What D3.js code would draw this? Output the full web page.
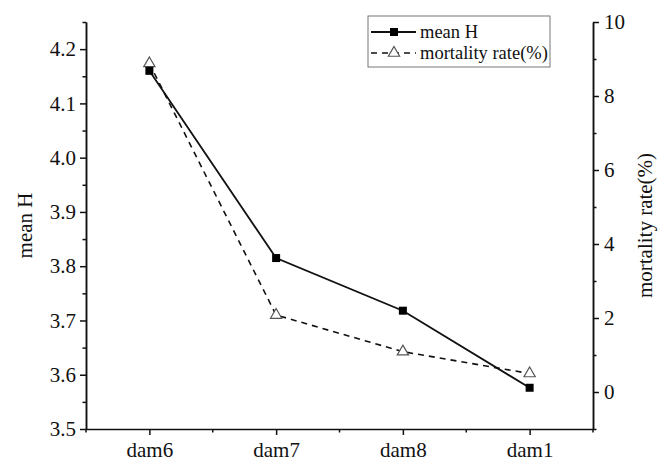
<!DOCTYPE html>
<html>
<head>
<meta charset="utf-8">
<script src="https://cdn.jsdelivr.net/npm/d3@7"></script>
<style>
  body { margin: 0; background: #fff; }
  svg text { font-family: "Liberation Serif", "Times New Roman", serif; fill: #111; }
  .axis path, .axis line { stroke: #111; stroke-width: 1.5; }
</style>
</head>
<body>
<div class="chart"></div>
<script>
// data
var categories = ["dam6", "dam7", "dam8", "dam1"];
var meanH = [4.16, 3.815, 3.718, 3.576];
var mortality = [8.88, 2.08, 1.09, 0.50];
var leftTicks = [3.5, 3.6, 3.7, 3.8, 3.9, 4.0, 4.1, 4.2];
var leftMinor = [3.55, 3.65, 3.75, 3.85, 3.95, 4.05, 4.15, 4.25];
var rightTicks = [0, 2, 4, 6, 8, 10];
var rightMinor = [-1, 1, 3, 5, 7, 9];
var seriesNames = ["mean H", "mortality rate(%)"];

var serif = "'Liberation Serif', 'Times New Roman', serif";

var svgWidth = 660;
var svgHeight = 461;

var margin = {
    top: 22,
    right: 67,
    bottom: 32,
    left: 86
};

var chartWidth = svgWidth - margin.left - margin.right;
var chartHeight = svgHeight - margin.top - margin.bottom;

var svg = d3.select(".chart")
    .append("svg")
    .attr("width", svgWidth)
    .attr("height", svgHeight);

var chartGroup = svg.append("g")
    .attr("transform", `translate(${margin.left}, ${margin.top})`);

var xScale = d3.scalePoint()
    .domain(categories)
    .range([0, chartWidth])
    .padding(0.5);

var yLeft = d3.scaleLinear()
    .domain([3.5, 4.25])
    .range([chartHeight, 0]);

var yRight = d3.scaleLinear()
    .domain([-1, 10])
    .range([chartHeight, 0]);

function styleAxis(g) {
    g.attr("font-family", serif).attr("font-size", 21);
    g.selectAll("text").attr("fill", "#111");
}

// minor ticks first, majors on top
chartGroup.append("g")
    .attr("class", "axis")
    .call(d3.axisLeft(yLeft).tickValues(leftMinor).tickSize(3.5).tickSizeOuter(0).tickFormat(""));

chartGroup.append("g")
    .attr("class", "axis")
    .call(d3.axisLeft(yLeft).tickValues(leftTicks).tickSize(6).tickSizeOuter(0).tickPadding(4)
        .tickFormat(d3.format(".1f")))
    .call(styleAxis);

chartGroup.append("g")
    .attr("class", "axis")
    .attr("transform", `translate(${chartWidth}, 0)`)
    .call(d3.axisRight(yRight).tickValues(rightMinor).tickSize(3.5).tickSizeOuter(0).tickFormat(""));

chartGroup.append("g")
    .attr("class", "axis")
    .attr("transform", `translate(${chartWidth}, 0)`)
    .call(d3.axisRight(yRight).tickValues(rightTicks).tickSize(6).tickSizeOuter(0).tickPadding(5))
    .call(styleAxis);

// x minor ticks sit halfway between categories and at both ends
var step = xScale.step();
var xMinor = [xScale(categories[0]) - step / 2].concat(categories.map(c => xScale(c) + step / 2));

var xMinorAxis = chartGroup.append("g")
    .attr("class", "axis")
    .attr("transform", `translate(0, ${chartHeight})`);
xMinorAxis.selectAll("line")
    .data(xMinor)
    .enter()
    .append("line")
    .attr("x1", d => d)
    .attr("x2", d => d)
    .attr("y1", 0)
    .attr("y2", 3.5);

chartGroup.append("g")
    .attr("class", "axis")
    .attr("transform", `translate(0, ${chartHeight})`)
    .call(d3.axisBottom(xScale).tickSize(6).tickSizeOuter(0).tickPadding(7))
    .call(styleAxis);

// mortality (dashed, open triangles)
var mortLine = d3.line()
    .x((d, i) => xScale(categories[i]))
    .y(d => yRight(d));

chartGroup.append("path")
    .datum(mortality)
    .attr("d", mortLine)
    .attr("fill", "none")
    .attr("stroke", "#111")
    .attr("stroke-width", 1.6)
    .attr("stroke-dasharray", "6,5");

// mean H (solid, filled squares)
var hLine = d3.line()
    .x((d, i) => xScale(categories[i]))
    .y(d => yLeft(d));

chartGroup.append("path")
    .datum(meanH)
    .attr("d", hLine)
    .attr("fill", "none")
    .attr("stroke", "#111")
    .attr("stroke-width", 1.8);

var triangle = d3.symbol().type(d3.symbolTriangle).size(55);
var square = d3.symbol().type(d3.symbolSquare).size(64);

chartGroup.selectAll(".tri")
    .data(mortality)
    .enter()
    .append("path")
    .attr("class", "tri")
    .attr("d", triangle)
    .attr("transform", (d, i) => `translate(${xScale(categories[i])}, ${yRight(d)})`)
    .attr("fill", "#fff")
    .attr("stroke", "#555")
    .attr("stroke-width", 1.2);

chartGroup.selectAll(".sq")
    .data(meanH)
    .enter()
    .append("path")
    .attr("class", "sq")
    .attr("d", square)
    .attr("transform", (d, i) => `translate(${xScale(categories[i])}, ${yLeft(d)})`)
    .attr("fill", "#000");

// axis titles
chartGroup.append("text")
    .attr("transform", `translate(${25 - margin.left}, ${chartHeight / 2}) rotate(-90)`)
    .attr("text-anchor", "middle")
    .attr("dy", "0.35em")
    .attr("font-size", 21)
    .text(seriesNames[0]);

chartGroup.append("text")
    .attr("transform", `translate(${chartWidth + 52}, ${chartHeight / 2}) rotate(-90)`)
    .attr("text-anchor", "middle")
    .attr("dy", "0.35em")
    .attr("font-size", 21)
    .text(seriesNames[1]);

// legend
var legend = svg.append("g")
    .attr("transform", "translate(368, 16)");

legend.append("rect")
    .attr("width", 182)
    .attr("height", 51)
    .attr("fill", "#fff")
    .attr("stroke", "#777")
    .attr("stroke-width", 1);

legend.append("line")
    .attr("x1", 3).attr("x2", 48)
    .attr("y1", 16).attr("y2", 16)
    .attr("stroke", "#111")
    .attr("stroke-width", 1.8);
legend.append("path")
    .attr("d", square)
    .attr("transform", "translate(26, 16)")
    .attr("fill", "#000");
legend.append("text")
    .attr("x", 52)
    .attr("y", 16)
    .attr("dy", "0.35em")
    .attr("font-size", 18.5)
    .text(seriesNames[0]);

legend.append("line")
    .attr("x1", 3).attr("x2", 48)
    .attr("y1", 37).attr("y2", 37)
    .attr("stroke", "#111")
    .attr("stroke-width", 1.6)
    .attr("stroke-dasharray", "6,5");
legend.append("path")
    .attr("d", triangle)
    .attr("transform", "translate(26, 37)")
    .attr("fill", "#fff")
    .attr("stroke", "#555")
    .attr("stroke-width", 1.2);
legend.append("text")
    .attr("x", 52)
    .attr("y", 37)
    .attr("dy", "0.35em")
    .attr("font-size", 18.5)
    .text(seriesNames[1]);
</script>
</body>
</html>
